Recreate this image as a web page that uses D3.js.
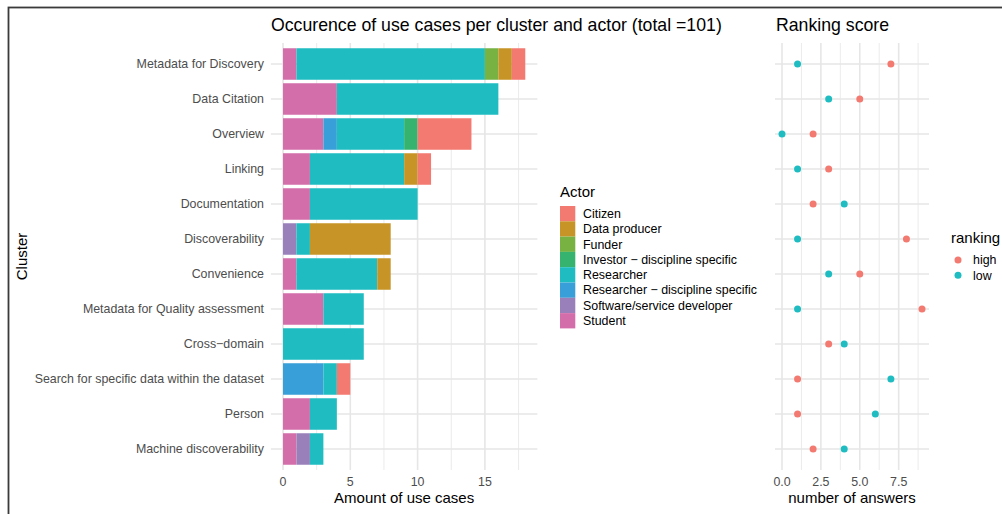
<!DOCTYPE html>
<html>
<head>
<meta charset="utf-8">
<script src="https://cdn.jsdelivr.net/npm/d3@7"></script>
<style>
  body { margin: 0; background: #fff; }
  svg { display: block; font-family: "Liberation Sans", Arial, sans-serif; }
</style>
</head>
<body>
<div id="content"></div>
<script>
// clusters, top to bottom
clusters = ["Metadata for Discovery", "Data Citation", "Overview", "Linking", "Documentation",
  "Discoverability", "Convenience", "Metadata for Quality assessment", "Cross\u2212domain",
  "Search for specific data within the dataset", "Person", "Machine discoverability"]

actors = ["Citizen", "Data producer", "Funder", "Investor \u2212 discipline specific", "Researcher",
  "Researcher \u2212 discipline specific", "Software/service developer", "Student"]
actorColors = ["#F37A70", "#C79527", "#77B243", "#36B46F", "#1FBDC1", "#389FD8", "#9A80BB", "#D46EAA"]

// use cases per cluster, one list per actor
citizen        = [1, 0, 4, 1, 0, 0, 0, 0, 0, 1, 0, 0]
dataProducer   = [1, 0, 0, 1, 0, 6, 1, 0, 0, 0, 0, 0]
funder         = [1, 0, 0, 0, 0, 0, 0, 0, 0, 0, 0, 0]
investorDisc   = [0, 0, 1, 0, 0, 0, 0, 0, 0, 0, 0, 0]
researcher     = [14, 12, 5, 7, 8, 1, 6, 3, 6, 1, 2, 1]
researcherDisc = [0, 0, 1, 0, 0, 0, 0, 0, 0, 3, 0, 0]
softwareDev    = [0, 0, 0, 0, 0, 1, 0, 0, 0, 0, 0, 1]
student        = [1, 4, 3, 2, 2, 0, 1, 3, 0, 0, 2, 1]
actorValues = [citizen, dataProducer, funder, investorDisc, researcher, researcherDisc, softwareDev, student]

// ranking score (number of answers)
rankHigh = [7, 5, 2, 3, 2, 8, 5, 9, 3, 1, 1, 2]
rankLow  = [1, 3, 0, 1, 4, 1, 3, 1, 4, 7, 6, 4]
rankNames = ["high", "low"]
rankColors = ["#F37A70", "#1FBDC1"]

barTicks = [0, 5, 10, 15]
barMinor = [2.5, 7.5, 12.5, 17.5]
dotTicks = [0, 2.5, 5, 7.5]
dotMinor = [1.25, 3.75, 6.25, 8.75]

svgwidth = 1002
svgheight = 514
gridCol = "#E6E6E6"
textGrey = "#4D4D4D"
tickSize = "12.4px"
titleSize = "15px"

var svg = d3.select("#content").append("svg")
  .attr("width", svgwidth)
  .attr("height", svgheight)

// outer frame
svg.append("rect")
  .attr("x", 8.5).attr("y", 7.5)
  .attr("width", 1100).attr("height", 600)
  .attr("fill", "none")
  .attr("stroke", "#3a3a3a")
  .attr("stroke-width", 1.8)

// shared y positions
var y = d3.scalePoint()
  .domain(clusters)
  .range([43, 470])
  .padding(0.6)
bandH = y.step() * 0.9

// ---------- stacked bar panel ----------
var x = d3.scaleLinear().domain([-0.9, 18.9]).range([270.9, 537.4])

rows = clusters.map(function(c, i) {
  var r = {cluster: c}
  actors.forEach(function(a, j) { r[a] = actorValues[j][i] })
  return r
})
// ggplot stacks the last level first (closest to zero)
var stack = d3.stack().keys(actors.slice().reverse())
series = stack(rows)

var g1 = svg.append("g")
g1.selectAll(".minor").data(barMinor).enter().append("line")
  .attr("x1", d => x(d)).attr("x2", d => x(d))
  .attr("y1", 43).attr("y2", 470)
  .attr("stroke", gridCol).attr("stroke-width", 0.8)
g1.selectAll(".major").data(barTicks).enter().append("line")
  .attr("x1", d => x(d)).attr("x2", d => x(d))
  .attr("y1", 43).attr("y2", 470)
  .attr("stroke", gridCol).attr("stroke-width", 1.6)
g1.selectAll(".hgrid").data(clusters).enter().append("line")
  .attr("x1", x.range()[0]).attr("x2", x.range()[1])
  .attr("y1", d => y(d)).attr("y2", d => y(d))
  .attr("stroke", gridCol).attr("stroke-width", 1.6)

series.forEach(function(s) {
  var col = actorColors[actors.indexOf(s.key)]
  g1.selectAll(null).data(s).enter().append("rect")
    .attr("class", "dataBar")
    .attr("x", d => x(d[0]))
    .attr("y", d => y(d.data.cluster) - bandH / 2)
    .attr("width", d => x(d[1]) - x(d[0]))
    .attr("height", bandH)
    .attr("fill", col)
})

// y labels
g1.selectAll(".ylab").data(clusters).enter().append("text")
  .attr("x", 264)
  .attr("y", d => y(d))
  .attr("dy", "0.35em")
  .attr("text-anchor", "end")
  .attr("fill", textGrey)
  .style("font-size", tickSize)
  .text(d => d)

g1.selectAll(".xlab").data(barTicks).enter().append("text")
  .attr("x", d => x(d))
  .attr("y", 486)
  .attr("text-anchor", "middle")
  .attr("fill", textGrey)
  .style("font-size", tickSize)
  .text(d => d)

g1.append("text")
  .attr("x", (x.range()[0] + x.range()[1]) / 2)
  .attr("y", 503)
  .attr("text-anchor", "middle")
  .attr("fill", "#000")
  .style("font-size", titleSize)
  .text("Amount of use cases")

g1.append("text")
  .attr("transform", "translate(27," + 256.5 + ") rotate(-90)")
  .attr("text-anchor", "middle")
  .attr("fill", "#000")
  .style("font-size", titleSize)
  .text("Cluster")

g1.append("text")
  .attr("x", 271)
  .attr("y", 31)
  .attr("fill", "#000")
  .style("font-size", "17.7px")
  .text("Occurence of use cases per cluster and actor (total =101)")

// actor legend
g1.append("text")
  .attr("x", 560).attr("y", 197)
  .attr("fill", "#000")
  .style("font-size", titleSize)
  .text("Actor")
actors.forEach(function(a, i) {
  g1.append("rect")
    .attr("x", 560).attr("y", 206 + i * 15.3)
    .attr("width", 15.3).attr("height", 15.3)
    .attr("fill", actorColors[i])
  g1.append("text")
    .attr("x", 583).attr("y", 206 + i * 15.3 + 7.65)
    .attr("dy", "0.35em")
    .attr("fill", "#000")
    .style("font-size", tickSize)
    .text(a)
})

// ---------- ranking panel ----------
var x2 = d3.scaleLinear().domain([-0.45, 9.45]).range([775, 929])
var g2 = svg.append("g")
g2.selectAll(".minor").data(dotMinor).enter().append("line")
  .attr("x1", d => x2(d)).attr("x2", d => x2(d))
  .attr("y1", 43).attr("y2", 470)
  .attr("stroke", gridCol).attr("stroke-width", 0.8)
g2.selectAll(".major").data(dotTicks).enter().append("line")
  .attr("x1", d => x2(d)).attr("x2", d => x2(d))
  .attr("y1", 43).attr("y2", 470)
  .attr("stroke", gridCol).attr("stroke-width", 1.6)
g2.selectAll(".hgrid").data(clusters).enter().append("line")
  .attr("x1", 775).attr("x2", 929)
  .attr("y1", d => y(d)).attr("y2", d => y(d))
  .attr("stroke", gridCol).attr("stroke-width", 1.6)

;[rankHigh, rankLow].forEach(function(vals, k) {
  g2.selectAll(null).data(vals).enter().append("circle")
    .attr("cx", d => x2(d))
    .attr("cy", (d, i) => y(clusters[i]))
    .attr("r", 3.5)
    .attr("fill", rankColors[k])
})

g2.selectAll(".xlab").data(dotTicks).enter().append("text")
  .attr("x", d => x2(d))
  .attr("y", 486)
  .attr("text-anchor", "middle")
  .attr("fill", textGrey)
  .style("font-size", tickSize)
  .text(d => d3.format(".1f")(d))

g2.append("text")
  .attr("x", 852).attr("y", 503)
  .attr("text-anchor", "middle")
  .attr("fill", "#000")
  .style("font-size", titleSize)
  .text("number of answers")

g2.append("text")
  .attr("x", 776).attr("y", 31)
  .attr("fill", "#000")
  .style("font-size", "17.7px")
  .text("Ranking score")

// ranking legend
g2.append("text")
  .attr("x", 951).attr("y", 243)
  .attr("fill", "#000")
  .style("font-size", titleSize)
  .text("ranking")
rankNames.forEach(function(n, i) {
  g2.append("circle")
    .attr("cx", 958).attr("cy", 260 + i * 15.3)
    .attr("r", 3.5)
    .attr("fill", rankColors[i])
  g2.append("text")
    .attr("x", 973).attr("y", 260 + i * 15.3)
    .attr("dy", "0.35em")
    .attr("fill", "#000")
    .style("font-size", tickSize)
    .text(n)
})
</script>
</body>
</html>
